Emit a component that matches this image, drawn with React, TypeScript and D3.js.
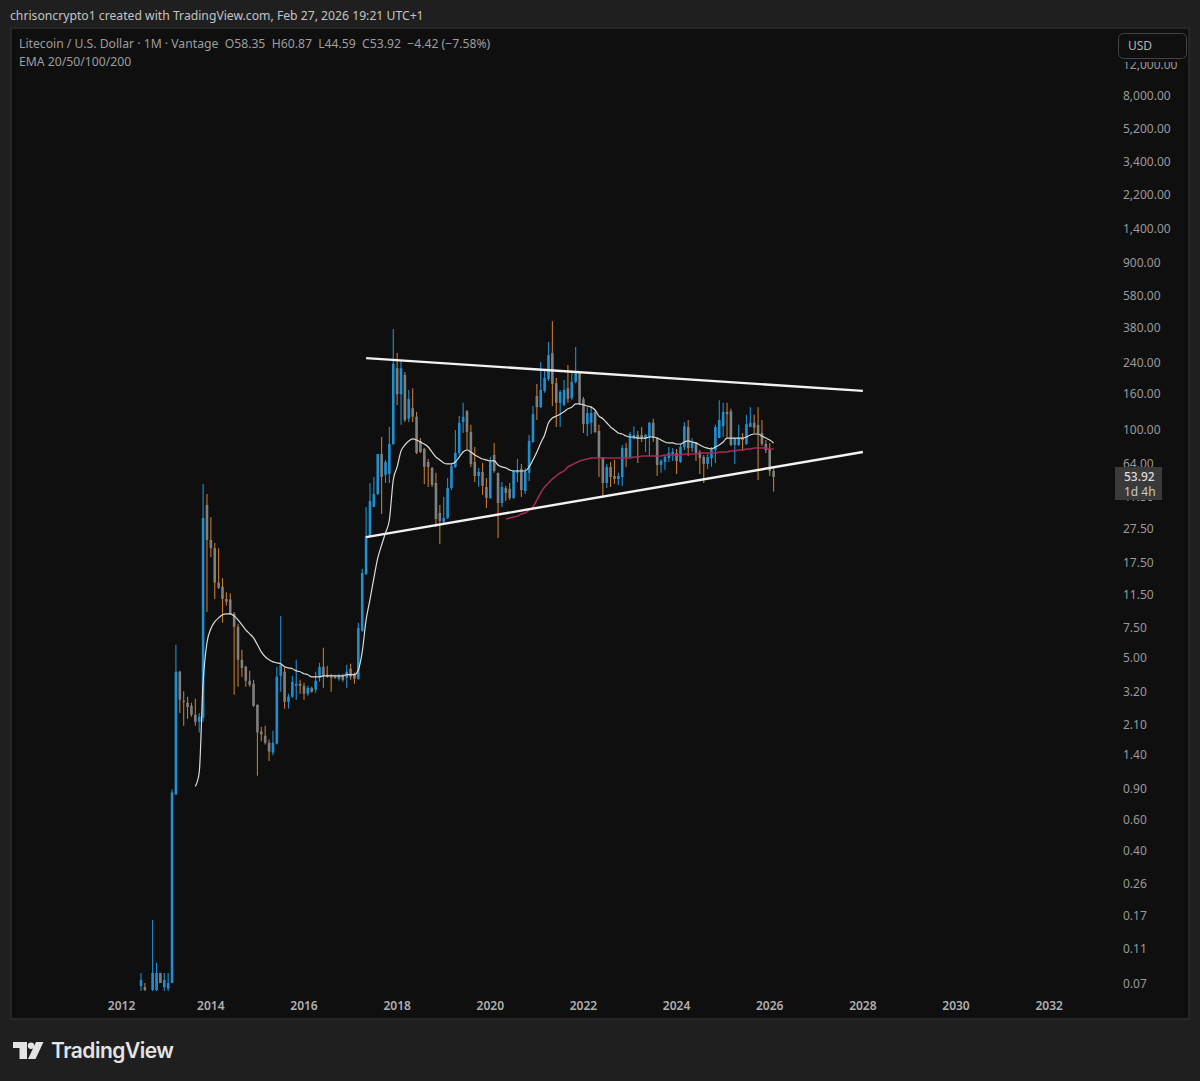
import React from 'react';
import * as d3 from 'd3';

// Monthly LTC/USD bars, first bar is Jul 2012. Values.
const opens = [
  0.0677, 0.0668, 0.06, 0.0643, 0.0643, 0.0804, 0.0668, 0.0655, 0.0705, 0.837,
  4.19, 2.86, 2.79, 2.68, 2.38, 2.17, 2.29, 37.4, 23.6, 21.2,
  13.5, 12.8, 10.9, 10.8, 8.96, 7.55, 4.9, 4.47, 3.72, 3.58,
  2.72, 1.91, 1.81, 1.65, 1.45, 1.63, 3.97, 4.19, 2.82, 3.02,
  3.48, 3.58, 3.48, 3.14, 3.39, 3.31, 3.92, 4.47, 4.03, 3.92,
  3.92, 3.82, 3.97, 3.87, 4.36, 4.08, 3.82, 7.17, 15.1, 24.9,
  36.4, 43.2, 73, 55.5, 56.2, 83.2, 225, 160, 206, 116,
  133, 119, 86.6, 78, 65.7, 60.8, 49.9, 33.7, 29.9, 31.5,
  46.7, 61.6, 74, 111, 128, 97.4, 65.7, 54.7, 57.7, 47.3,
  41, 72.1, 57, 38.4, 46.7, 46.1, 41, 57, 60, 44.9,
  57, 85.4, 156, 135, 167, 195, 275, 185, 143, 139,
  173, 152, 188, 211, 150, 108, 110, 127, 98.7, 70.1,
  49.9, 61.6, 54.7, 52.6, 54, 78.9, 70.1, 88.9, 93.7, 93.7,
  88.9, 91.2, 110, 90, 63.2, 65.7, 69.2, 73, 74, 65.7,
  80, 104, 78.9, 84.4, 74.9, 70.1, 64.1, 69.2, 76.9, 90,
  105, 127, 128, 82.2, 82.2, 90, 83.2, 104, 110, 107,
  96.2, 83.2, 78, 58.35,
];
const highs = [
  0.0804, 0.0705, 0.0625, 0.161, 0.0918, 0.0804, 0.0804, 0.0804, 0.893, 5.97,
  4.24, 3.24, 3.02, 2.79, 2.94, 2.44, 49.3, 43.2, 31.9, 22.7,
  21.2, 14.3, 11.9, 11.7, 9.19, 7.86, 5.59, 4.53, 4.24, 3.77,
  2.72, 2.03, 2.06, 1.72, 1.93, 4.47, 8.72, 4.47, 3.14, 3.97,
  4.9, 3.77, 3.63, 3.48, 3.44, 4.19, 4.71, 5.73, 4.53, 4.08,
  4.03, 4.08, 4.08, 4.59, 4.65, 4.14, 7.97, 16.2, 36.4, 49.9,
  54, 73, 91.2, 67.5, 104, 376, 275, 250.5, 214, 169,
  173, 127, 90, 78.9, 68.4, 61.6, 57, 37.4, 41.5, 53.3,
  64.1, 100, 120, 143, 130, 107, 80, 60.8, 64.9, 53.3,
  70.1, 84.4, 57, 50.5, 48, 49.9, 59.2, 68.4, 64.1, 60.8,
  93.7, 137, 183, 244, 223, 318, 417, 198, 169, 192.7,
  235, 214, 297, 217, 154, 135, 137, 127, 107, 70.1,
  64.1, 65.7, 67.5, 57, 82.2, 84.4, 97.4, 105, 98.7, 104,
  94.9, 111, 116, 91.2, 68.4, 72.1, 80, 78.9, 78, 83.2,
  111, 114, 90, 85.4, 76.9, 72.1, 73, 80, 107, 148,
  143, 143, 132, 90, 107, 96.2, 122, 135, 122, 135,
  114, 87.7, 84.4, 60.87,
];
const lows = [
  0.062, 0.062, 0.05, 0.062, 0.062, 0.0705, 0.062, 0.062, 0.0705, 0.837,
  2.44, 2.06, 2.26, 2.32, 2.06, 1.89, 2.17, 9.19, 18.9, 10.9,
  12.4, 7.97, 9.98, 8.85, 3.1, 3.44, 3.92, 3.44, 3.44, 2.64,
  1.07, 1.68, 1.61, 1.3, 1.4, 1.61, 3.22, 2.58, 2.58, 2.98,
  2.9, 3.14, 2.9, 3.06, 3.18, 3.18, 3.67, 3.39, 3.87, 3.22,
  3.82, 3.72, 3.67, 3.39, 3.77, 3.58, 3.77, 7.07, 14.9, 24.5,
  36.4, 42.6, 33.2, 49.9, 49.9, 82.2, 139, 107, 111, 111,
  111, 73, 74, 49.3, 47.3, 47.3, 28, 22.4, 29.5, 31.1,
  45.5, 60.8, 72.1, 96.2, 76.9, 61.6, 50.5, 47.3, 42.6, 35.9,
  40.4, 57, 24.2, 36.4, 39.4, 39.9, 40.4, 50.5, 41.5, 43.2,
  51.2, 84.4, 114, 133, 163, 190, 137, 104, 104, 137,
  143, 148, 185, 139, 96.2, 92.4, 94.9, 96.2, 54, 41,
  46.7, 47.3, 49.3, 48.6, 48, 61.6, 69.2, 88.9, 64.9, 85.4,
  74.9, 71.1, 85.4, 54.7, 57, 59.2, 65.7, 66.6, 56.2, 64.9,
  76.9, 71.1, 74.9, 66.6, 56.2, 49.9, 60, 61.6, 64.9, 90,
  91.2, 90, 81, 64.1, 81, 76.9, 82.2, 104, 96.2, 51.9,
  81, 74, 54.7, 44.59,
];
const closes = [
  0.0733, 0.0643, 0.056, 0.0804, 0.0804, 0.0705, 0.0733, 0.0705, 0.859, 4.19,
  2.9, 2.82, 2.64, 2.38, 2.17, 2.32, 31.5, 23.6, 21.2, 13.5,
  12.6, 10.9, 10.5, 8.96, 7.55, 4.9, 4.41, 3.72, 3.53, 2.68,
  1.89, 1.84, 1.65, 1.47, 1.65, 3.92, 4.59, 2.82, 3.02, 3.67,
  3.58, 3.48, 3.14, 3.39, 3.22, 3.72, 4.47, 3.97, 3.92, 3.87,
  3.87, 3.97, 3.77, 4.19, 3.92, 3.82, 7.45, 15.3, 24.9, 39.4,
  43.2, 73, 54, 65.7, 83.2, 238, 160, 225, 114, 150,
  119, 74, 74.9, 61.6, 61.6, 48.6, 31.1, 30.3, 31.5, 46.7,
  62.4, 74, 110, 119, 97.4, 64.1, 54.7, 57.7, 48, 41,
  65.7, 58.4, 38.4, 47.3, 43.8, 41, 58.4, 59.2, 45.5, 57.7,
  86.6, 123, 135, 169, 198, 268, 183, 143, 165, 169,
  150, 188, 214, 143, 108, 125, 125, 97.4, 69.2, 49.9,
  61.6, 54, 52.6, 54.7, 78.9, 70.1, 94.9, 93.7, 88.9, 90,
  93.7, 110, 90, 63.2, 66.6, 70.1, 74, 74.9, 66.6, 80,
  105, 78.9, 84.4, 74, 69.2, 64.1, 70.1, 76.9, 104, 114,
  127, 123, 82.2, 90, 90, 87.7, 108, 110, 103, 96.2,
  83.2, 76.9, 58.34, 53.92,
];

// white EMA starts at bar 14, crimson one at bar 94
const emaWhiteStart = 14;
const emaWhite = [
  0.93, 1.116, 3.63, 6.13, 7.36, 8.06, 8.5, 8.85, 8.96, 8.96,
  8.72, 8.28, 7.76, 7.26, 6.89, 6.53, 5.97, 5.44, 5.1, 4.9,
  4.77, 4.71, 4.65, 4.47, 4.41, 4.36, 4.24, 4.19, 4.08, 4.03,
  3.92, 3.92, 3.92, 3.97, 3.97, 3.97, 3.97, 3.97, 3.97, 4.03,
  4.03, 4.03, 4.3, 5.44, 8.28, 10.8, 14.3, 18.6, 22.1, 25.9,
  30.7, 51.9, 61.6, 75.9, 82.2, 86.6, 88.9, 87.7, 85.4, 83.2,
  80, 74.9, 70.1, 67.5, 64.9, 64.1, 64.1, 65.7, 70.1, 74.9,
  76.9, 74.9, 72.1, 70.1, 68.4, 67.5, 66.6, 66.6, 63.2, 61.6,
  60.8, 59.2, 58.4, 58.4, 58.4, 58.4, 61.6, 67.5, 74.9, 84.4,
  93.7, 110, 117, 120, 123, 127, 132, 135, 141, 141,
  139, 137, 135, 130, 120, 116, 110, 104, 100, 96.2,
  94.9, 92.4, 91.2, 91.2, 90, 90, 90, 91.2, 91.2, 90,
  87.7, 85.4, 84.4, 84.4, 83.2, 83.2, 85.4, 86.6, 85.4, 84.4,
  82.2, 80, 78.9, 78, 80, 82.2, 85.4, 90, 90, 90,
  90, 90, 91.2, 93.7, 94.9, 94.9, 92.4, 90, 87.7, 84.4,
];
const emaRedStart = 94;
const emaRed = [
  31.1, 31.5, 31.9, 32.3, 33.2, 33.7, 35, 36.4, 39.9, 43.8,
  47.3, 49.9, 52.6, 54.7, 57, 58.4, 61.6, 63.2, 64.9, 66.6,
  67.5, 68.4, 69.2, 69.2, 69.2, 69.2, 69.2, 69.2, 69.2, 69.2,
  69.2, 69.2, 69.2, 70.1, 70.1, 71.1, 71.1, 71.1, 71.1, 71.1,
  71.1, 72.1, 72.1, 72.1, 72.1, 72.1, 73, 73, 73, 73,
  74, 74, 74, 74, 74, 74.9, 74.9, 74.9, 75.9, 75.9,
  76.9, 76.9, 78, 78, 78.9, 78.9, 78.9, 78.9, 78, 78,
];

// drawn trend lines: [bar, price] at each end
const upperTrend: [number, number][] = [[58, 257], [186, 167]];
const lowerTrend: [number, number][] = [[58, 24.5], [186, 74.9]];

const priceTicks = [
  12000, 8000, 5200, 3400, 2200, 1400, 900, 580, 380, 240, 160, 100, 64, 41.5,
  27.5, 17.5, 11.5, 7.5, 5, 3.2, 2.1, 1.4, 0.9, 0.6, 0.4, 0.26, 0.17, 0.11, 0.07,
];
const yearLabels = ['2012', '2014', '2016', '2018', '2020', '2022', '2024', '2026', '2028', '2030', '2032'];
const yearBars = [-5, 18, 42, 66, 90, 114, 138, 162, 186, 210, 234];

const PAGE_BG = '#1f1f1f';
const PANE_BG = '#0f0f0f';
const UP = '#1f8fd0';
const DOWN_WICK = '#c47a2c';
const DOWN_BODY = '#7f7f7f';
const FONT = '"Noto Sans", sans-serif';

const x = d3.scaleLinear().domain([0, 163]).range([141, 773.6]);
const y = d3.scaleLog().domain([100, 0.07]).range([430, 983.5]);

const priceFormat = d3.format(',.2f');

const line = d3.line<[number, number]>()
  .x(d => x(d[0]))
  .y(d => y(d[1]))
  .curve(d3.curveMonotoneX);

const straight = d3.line<[number, number]>().x(d => x(d[0])).y(d => y(d[1]));

const toPoints = (values: number[], start: number) =>
  values.map((v, i) => [start + i, v] as [number, number]);

const App: React.FC = () => {
  return (
    <svg
      width={1200}
      height={1081}
      viewBox="0 0 1200 1081"
      style={{ position: 'absolute', left: 0, top: 0, display: 'block', fontFamily: FONT }}
    >
      <defs>
        <clipPath id="plot-clip">
          <rect x={12} y={29} width={1100} height={962} />
        </clipPath>
      </defs>

      <rect width={1200} height={1081} fill={PAGE_BG} />
      <rect x={11} y={28} width={1178} height={991} fill={PANE_BG} stroke="#2c2c2c" strokeWidth={1.5} />

      <text x={10} y={20} fontSize={12.2} fill="#c4c4c4">
        chrisoncrypto1 created with TradingView.com, Feb 27, 2026 19:21 UTC+1
      </text>

      {/* price axis labels, the button and the countdown box sit on top of them */}
      {priceTicks.map(t => (
        <text key={t} x={1123} y={y(t)} dy="0.35em" fontSize={12} fill="#9a9a9a">
          {priceFormat(t)}
        </text>
      ))}

      {yearLabels.map((label, i) => (
        <text
          key={label}
          x={x(yearBars[i])}
          y={1006}
          dy="0.35em"
          textAnchor="middle"
          fontSize={12}
          fontWeight={600}
          fill="#b0b0b0"
        >
          {label}
        </text>
      ))}

      <g clipPath="url(#plot-clip)">
        {closes.map((c, i) => {
          const isUp = c >= opens[i];
          const top = y(Math.max(opens[i], c));
          const bottom = y(Math.min(opens[i], c));
          return (
            <g key={i}>
              <line
                x1={x(i)}
                x2={x(i)}
                y1={y(highs[i])}
                y2={y(lows[i])}
                stroke={isUp ? UP : DOWN_WICK}
                strokeWidth={1.1}
              />
              <rect
                x={x(i) - 1.3}
                y={top}
                width={2.6}
                height={Math.max(bottom - top, 1)}
                fill={isUp ? UP : DOWN_BODY}
              />
            </g>
          );
        })}

        <path d={line(toPoints(emaRed, emaRedStart)) ?? ''} fill="none" stroke="#a62a5c" strokeWidth={1.5} />
        <path d={line(toPoints(emaWhite, emaWhiteStart)) ?? ''} fill="none" stroke="#dcdcd6" strokeWidth={1.2} />

        <path d={straight(upperTrend) ?? ''} stroke="#f2f2f2" strokeWidth={2.4} fill="none" />
        <path d={straight(lowerTrend) ?? ''} stroke="#f2f2f2" strokeWidth={2.4} fill="none" />
      </g>

      <text x={19} y={44} dy="0.35em" fontSize={12.2} fill="#9e9e9e" xmlSpace="preserve">
        {'Litecoin / U.S. Dollar · 1M · Vantage  O58.35  H60.87  L44.59  C53.92  −4.42 (−7.58%)'}
      </text>
      <text x={19} y={62} dy="0.35em" fontSize={12.2} fill="#9e9e9e">
        EMA 20/50/100/200
      </text>

      {/* USD button, its backing strip cuts the top off the first tick label */}
      <rect x={1116} y={33} width={72} height={29} fill={PANE_BG} />
      <rect x={1118.5} y={33.5} width={68} height={25} rx={5} fill={PANE_BG} stroke="#434343" />
      <text x={1128} y={46} dy="0.35em" fontSize={12} fill="#b4b4b4">USD</text>

      {/* last price box */}
      <rect x={1115} y={467} width={47} height={33} fill="#3a3a3a" />
      <text x={1124} y={y(53.92)} dy="0.35em" fontSize={12} fontWeight={500} fill="#dcdcdc">53.92</text>
      <text x={1124} y={492} dy="0.35em" fontSize={12} fill="#c8c8c8">1d 4h</text>

      {/* TradingView mark */}
      <g fill="#e4e4e4">
        <polygon points="13,1042 27,1042 27,1059 19.5,1059 19.5,1048 13,1048" />
        <circle cx={31} cy={1045.7} r={3.2} />
        <polygon points="36,1042 43.5,1042 35.5,1059 28,1059" />
        <text x={51} y={1058} fontFamily="Inter, sans-serif" fontSize={21} fontWeight={600} letterSpacing={-0.5}>
          TradingView
        </text>
      </g>
    </svg>
  );
};

export default App;
